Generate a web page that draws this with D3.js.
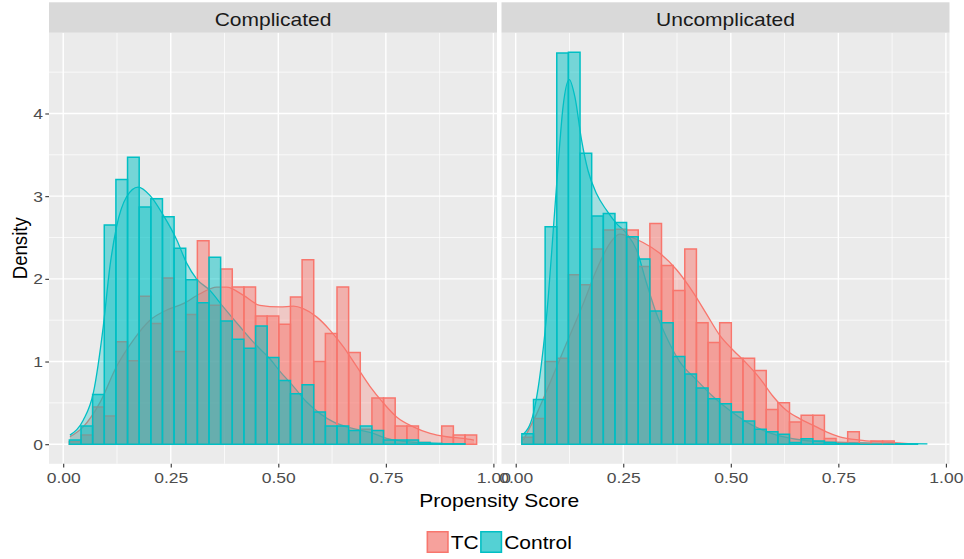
<html>
<head>
<meta charset="utf-8">
<script src="https://cdn.jsdelivr.net/npm/d3@7"></script>
<style>
body{margin:0;background:#fff}
text{font-family:"Liberation Sans",Arial,Helvetica,sans-serif}
</style>
</head>
<body>
<svg width="964" height="559"></svg>
<script>
// facets, groups, colours
const facets=["Complicated","Uncomplicated"]
const groups=["TC","Control"]
const colours=["#F8766D","#00BFC4"]
const xTicks=[0,0.25,0.5,0.75,1]
const xMinor=[0.125,0.375,0.625,0.875]
const yTicks=[0,1,2,3,4]
const yMinor=[0.5,1.5,2.5,3.5,4.5]

// histogram bins (35 bins shared by every group)
const binStart=0.0143, binWidth=0.02705, nBins=35

// histogram densities per bin
const compTC=[0.03,0.11,0.45,0.34,1.24,1.01,1.79,1.46,2.01,1.12,1.57,2.46,1.68,2.12,1.90,1.90,1.55,1.55,1.45,1.78,2.23,1.00,1.34,1.90,1.11,0.18,0.56,0.56,0.22,0.22,0.02,0,0.22,0.11,0.11]
const compCtrl=[0.05,0.22,0.60,2.65,3.20,3.47,2.87,2.97,2.75,2.37,1.99,1.71,2.26,1.49,1.27,1.16,1.43,1.05,0.77,0.61,0.72,0.39,0.22,0.22,0.165,0.22,0.165,0.05,0.05,0.05,0.02,0.01,0.005,0.005]
const uncTC=[0.085,0.31,1.00,1.04,2.05,1.93,2.36,2.59,2.60,2.59,2.15,2.67,2.16,1.86,2.36,1.47,1.23,1.47,1.04,1.04,0.89,0.42,0.50,0.27,0.35,0.35,0.07,0.02,0.15,0.01,0.04,0.04]
const uncCtrl=[0.125,0.54,2.63,4.73,4.74,3.52,2.76,2.79,2.68,2.51,2.24,1.61,1.47,1.06,0.85,0.68,0.55,0.49,0.39,0.28,0.18,0.15,0.12,0.02,0.065,0.04,0.02,0.01,0.005,0,0,0,0,0.003]

// kernel density curves [x, density]
const compTCDens=[[0.0156,0.09],[0.0465,0.21],[0.085,0.50],[0.124,0.94],[0.163,1.26],[0.2016,1.50],[0.24,1.62],[0.279,1.70],[0.318,1.82],[0.357,1.90],[0.38,1.90],[0.419,1.80],[0.457,1.68],[0.504,1.66],[0.535,1.67],[0.558,1.64],[0.589,1.54],[0.620,1.38],[0.651,1.18],[0.682,0.94],[0.713,0.70],[0.744,0.50],[0.775,0.33],[0.814,0.21],[0.853,0.13],[0.892,0.09],[0.93,0.07],[0.955,0.05]]
const compCtrlDens=[[0.0156,0.11],[0.0465,0.29],[0.070,0.62],[0.093,1.42],[0.1086,2.15],[0.124,2.63],[0.147,2.99],[0.174,3.11],[0.2016,3.01],[0.2326,2.77],[0.264,2.47],[0.287,2.19],[0.310,2.0],[0.341,1.86],[0.372,1.66],[0.411,1.42],[0.450,1.19],[0.481,1.03],[0.504,0.88],[0.535,0.70],[0.566,0.51],[0.597,0.37],[0.628,0.27],[0.659,0.21],[0.690,0.17],[0.721,0.13],[0.752,0.07],[0.783,0.04],[0.822,0.02],[0.86,0.01],[0.932,0.0]]
const uncTCDens=[[0.0177,0.05],[0.049,0.37],[0.0796,0.74],[0.118,1.22],[0.157,1.70],[0.188,2.11],[0.219,2.43],[0.242,2.54],[0.265,2.51],[0.296,2.44],[0.335,2.31],[0.374,2.11],[0.412,1.84],[0.443,1.58],[0.474,1.32],[0.505,1.14],[0.536,0.98],[0.567,0.80],[0.598,0.58],[0.629,0.41],[0.66,0.31],[0.691,0.23],[0.722,0.15],[0.753,0.09],[0.80,0.05],[0.845,0.03],[0.92,0.005]]
const uncCtrlDens=[[0.0177,0.12],[0.041,0.37],[0.060,0.98],[0.0757,1.78],[0.0873,2.59],[0.0989,3.40],[0.110,4.08],[0.1245,4.41],[0.1376,4.20],[0.153,3.68],[0.168,3.31],[0.188,3.03],[0.211,2.83],[0.234,2.67],[0.2575,2.55],[0.281,2.35],[0.304,1.95],[0.327,1.58],[0.350,1.30],[0.381,1.00],[0.42,0.78],[0.458,0.58],[0.497,0.41],[0.536,0.27],[0.574,0.17],[0.613,0.10],[0.652,0.06],[0.706,0.03],[0.768,0.02],[0.845,0.01],[0.957,0.005]]

const histData=[[compTC,compCtrl],[uncTC,uncCtrl]]
const densData=[[compTCDens,compCtrlDens],[uncTCDens,uncCtrlDens]]

const svg=d3.select("svg")
const W=+svg.attr("width")
const stretch=1.13   // the picture is a little wider than tall
const margin={top:2.3,left:49,right:14.5,bottom:95.2}
const stripH=30.4, gap=4.5
const panelW=(W-margin.left-margin.right-gap)/2
const panelTop=margin.top+stripH
const panelH=559-margin.bottom-panelTop
const font="Liberation Sans, Arial, sans-serif"

function label(g,x,y,s,size,fill,anchor,rot){
  return g.append("text")
    .attr("transform","translate("+x+","+y+") scale("+stretch+",1)"+(rot?" rotate("+rot+")":""))
    .attr("text-anchor",anchor||"middle")
    .attr("font-size",size).attr("fill",fill).text(s)
}

// ggplot style expansion of 5%
const xLo=binStart, xHi=binStart+nBins*binWidth
const yHi=d3.max(histData.flat(2))
const xs=d3.scaleLinear().domain([xLo-0.05*(xHi-xLo),xHi+0.05*(xHi-xLo)]).range([0,panelW])
const ys=d3.scaleLinear().domain([-0.05*yHi,1.05*yHi]).range([panelH,0])

const area=d3.area().x(d=>xs(d[0])).y0(ys(0)).y1(d=>ys(d[1])).curve(d3.curveMonotoneX)
const line=d3.line().x(d=>xs(d[0])).y(d=>ys(d[1])).curve(d3.curveMonotoneX)

facets.forEach(function(f,p){
  const px=margin.left+p*(panelW+gap)
  const g=svg.append("g").attr("transform","translate("+px+","+panelTop+")")
  g.append("rect").attr("width",panelW).attr("height",panelH).attr("fill","#EBEBEB")

  // grid
  g.selectAll(".xminor").data(xMinor).enter().append("line")
    .attr("x1",d=>xs(d)).attr("x2",d=>xs(d)).attr("y1",0).attr("y2",panelH)
    .attr("stroke","#fff").attr("stroke-width",0.7)
  g.selectAll(".yminor").data(yMinor).enter().append("line")
    .attr("y1",d=>ys(d)).attr("y2",d=>ys(d)).attr("x1",0).attr("x2",panelW)
    .attr("stroke","#fff").attr("stroke-width",0.7)
  g.selectAll(".xmajor").data(xTicks).enter().append("line")
    .attr("x1",d=>xs(d)).attr("x2",d=>xs(d)).attr("y1",0).attr("y2",panelH)
    .attr("stroke","#fff").attr("stroke-width",1.4)
  g.selectAll(".ymajor").data(yTicks).enter().append("line")
    .attr("y1",d=>ys(d)).attr("y2",d=>ys(d)).attr("x1",0).attr("x2",panelW)
    .attr("stroke","#fff").attr("stroke-width",1.4)

  // density layer
  densData[p].forEach(function(dd,i){
    g.append("path").datum(dd).attr("d",area).attr("fill",colours[i]).attr("fill-opacity",0.3)
    g.append("path").datum(dd).attr("d",line).attr("fill","none").attr("stroke",colours[i]).attr("stroke-width",1.3)
  })

  // histogram layer
  histData[p].forEach(function(vals,i){
    g.selectAll(".bar"+i).data(vals).enter().append("path")
      .attr("d",function(v,k){
        const x0=xs(binStart+k*binWidth), x1=xs(binStart+(k+1)*binWidth)
        return "M"+x0+","+ys(0)+"V"+ys(v)+"H"+x1+"V"+ys(0)+"Z"
      })
      .attr("fill",colours[i]).attr("fill-opacity",0.5)
      .attr("stroke",colours[i]).attr("stroke-width",1.5).attr("stroke-linejoin","miter")
  })

  // strip
  svg.append("rect").attr("x",px).attr("y",margin.top).attr("width",panelW).attr("height",stripH).attr("fill","#D9D9D9")
  label(svg,px+panelW/2,margin.top+23.3,f,18.6,"#1A1A1A")

  // x axis
  const ax=svg.append("g").attr("transform","translate("+px+","+(panelTop+panelH)+")")
    .call(d3.axisBottom(xs).tickValues(xTicks).tickFormat(d3.format(".2f")).tickSize(3.7).tickPadding(4.2))
  ax.select(".domain").remove()
  ax.selectAll("line").attr("stroke","#333333").attr("stroke-width",1.1)
  ax.selectAll("text").attr("font-family",font).attr("font-size",15.5).attr("fill","#4D4D4D")
    .attr("transform","scale("+stretch+",1)")

  if(p==0){
    const ay=svg.append("g").attr("transform","translate("+px+","+panelTop+")")
      .call(d3.axisLeft(ys).tickValues(yTicks).tickFormat(d3.format("d")).tickSize(3.7).tickPadding(2.3))
    ay.select(".domain").remove()
    ay.selectAll("line").attr("stroke","#333333").attr("stroke-width",1.1)
    ay.selectAll("text").attr("font-family",font).attr("font-size",15.5).attr("fill","#4D4D4D")
      .attr("x",-6/stretch).attr("transform","scale("+stretch+",1)")
  }
})

// axis titles
const midX=margin.left+panelW+gap/2
label(svg,midX,506.5,"Propensity Score",18.6,"#000")
label(svg,26.7,panelTop+panelH/2,"Density",18.6,"#000","middle",-90)

// legend
const keyS=22, keyY=531
const leg=svg.append("g")
let cx=0
groups.forEach(function(name,i){
  const k=leg.append("g").attr("transform","translate("+cx+","+keyY+")")
  k.append("rect").attr("width",keyS).attr("height",keyS).attr("fill","#F2F2F2")
  k.append("rect").attr("width",keyS).attr("height",keyS).attr("fill",colours[i]).attr("fill-opacity",0.3)
  k.append("rect").attr("x",0.75).attr("y",0.75).attr("width",keyS-1.5).attr("height",keyS-1.5)
    .attr("fill",colours[i]).attr("fill-opacity",0.5).attr("stroke",colours[i]).attr("stroke-width",1.5)
  cx+=keyS+2
  const t=label(leg,cx,keyY+keyS/2+6.7,name,18.6,"#000","start")
  cx+=t.node().getComputedTextLength()*stretch+1.5
})
leg.attr("transform","translate("+(midX-(cx-1.5)/2)+",0)")
</script>
</body>
</html>
